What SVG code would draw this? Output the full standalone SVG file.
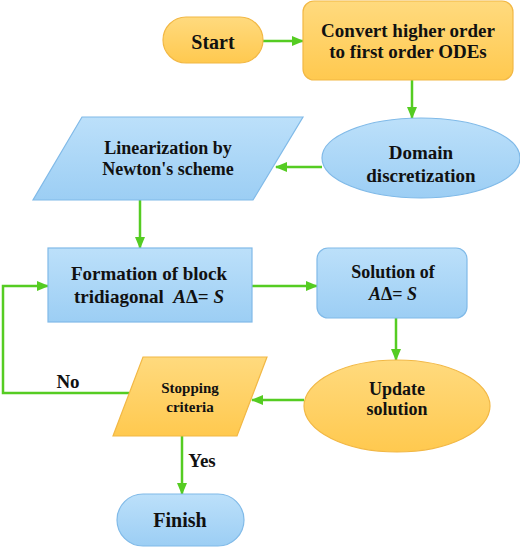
<svg xmlns="http://www.w3.org/2000/svg" width="520" height="547" viewBox="0 0 520 547">
<defs>
<linearGradient id="gO" x1="0" y1="0" x2="0" y2="1"><stop offset="0" stop-color="#FFDA7E"/><stop offset="1" stop-color="#FFC94F"/></linearGradient>
<linearGradient id="gB" x1="0" y1="0" x2="0" y2="1"><stop offset="0" stop-color="#BCE0FA"/><stop offset="1" stop-color="#9CCEF4"/></linearGradient>
<marker id="ah" markerUnits="userSpaceOnUse" markerWidth="12" markerHeight="10" refX="11" refY="5" orient="auto"><path d="M0,0 L12,5 L0,10 Z" fill="#55CC22"/></marker>
<style>
.o{fill:url(#gO);stroke:#F2B845;stroke-width:1.2}
.b{fill:url(#gB);stroke:#80BAE8;stroke-width:1.2}
.t{font-family:"Liberation Serif",serif;font-weight:bold;fill:#111;text-anchor:middle}
.c{fill:none;stroke:#55CC22;stroke-width:2.5}
.a{marker-end:url(#ah)}
</style>
</defs>
<g id="connectors">
<line class="c a" x1="263" y1="41" x2="303" y2="41"/>
<line class="c a" x1="412" y1="80" x2="412" y2="118"/>
<line class="c a" x1="322" y1="167" x2="276" y2="167"/>
<line class="c a" x1="140" y1="200" x2="140" y2="248"/>
<line class="c a" x1="252" y1="286" x2="317" y2="286"/>
<line class="c a" x1="396" y1="318" x2="396" y2="360"/>
<line class="c a" x1="304" y1="400" x2="252" y2="400"/>
<polyline class="c a" points="129,393 3,393 3,286 48,286"/>
<line class="c a" x1="182" y1="436" x2="182" y2="494"/>
<text class="t" x="68" y="388" font-size="19" font-family="Liberation Serif">No</text>
<text class="t" x="202" y="467" font-size="19" font-family="Liberation Serif">Yes</text>
</g>
<g id="start">
<rect class="o" x="163" y="17" width="100" height="46" rx="23"/>
<text class="t" x="213" y="49" font-size="20" font-family="Liberation Serif">Start</text>
</g>
<g id="convert">
<rect class="o" x="303" y="1" width="210" height="79" rx="11"/>
<text class="t" x="408" y="37" font-size="19" font-family="Liberation Serif">Convert higher order</text>
<text class="t" x="408" y="58" font-size="19" font-family="Liberation Serif">to first order ODEs</text>
</g>
<g id="domain">
<ellipse class="b" cx="421" cy="158" rx="99" ry="40"/>
<text class="t" x="421" y="159" font-size="19" font-family="Liberation Serif">Domain</text>
<text class="t" x="421" y="182" font-size="19" font-family="Liberation Serif">discretization</text>
</g>
<g id="linearization">
<polygon class="b" points="82,117 303,117 253,200 33,200"/>
<text class="t" x="168" y="154" font-size="18" font-family="Liberation Serif">Linearization by</text>
<text class="t" x="168" y="175" font-size="18" font-family="Liberation Serif">Newton's scheme</text>
</g>
<g id="formation">
<rect class="b" x="48" y="248" width="204" height="74"/>
<text class="t" x="149" y="280" font-size="19" font-family="Liberation Serif">Formation of block</text>
<text class="t" x="149" y="303" font-size="19" font-family="Liberation Serif">tridiagonal&#160; <tspan font-style="italic">A</tspan>Δ= <tspan font-style="italic">S</tspan></text>
</g>
<g id="solution">
<rect class="b" x="317" y="248" width="150" height="70" rx="11"/>
<text class="t" x="393" y="278" font-size="18" font-family="Liberation Serif">Solution of</text>
<text class="t" x="393" y="300" font-size="18" font-family="Liberation Serif"><tspan font-style="italic">A</tspan>Δ= <tspan font-style="italic">S</tspan></text>
</g>
<g id="update">
<ellipse class="o" cx="397" cy="406" rx="93" ry="46"/>
<text class="t" x="397" y="395" font-size="18" font-family="Liberation Serif">Update</text>
<text class="t" x="397" y="415" font-size="18" font-family="Liberation Serif">solution</text>
</g>
<g id="stopping">
<polygon class="o" points="143,357 267,357 237,436 113,436"/>
<text class="t" x="190" y="393" font-size="15" font-family="Liberation Serif">Stopping</text>
<text class="t" x="190" y="412" font-size="15" font-family="Liberation Serif">criteria</text>
</g>
<g id="finish">
<rect class="b" x="117" y="494" width="127" height="52" rx="26"/>
<text class="t" x="180" y="527" font-size="20" font-family="Liberation Serif">Finish</text>
</g>
</svg>
